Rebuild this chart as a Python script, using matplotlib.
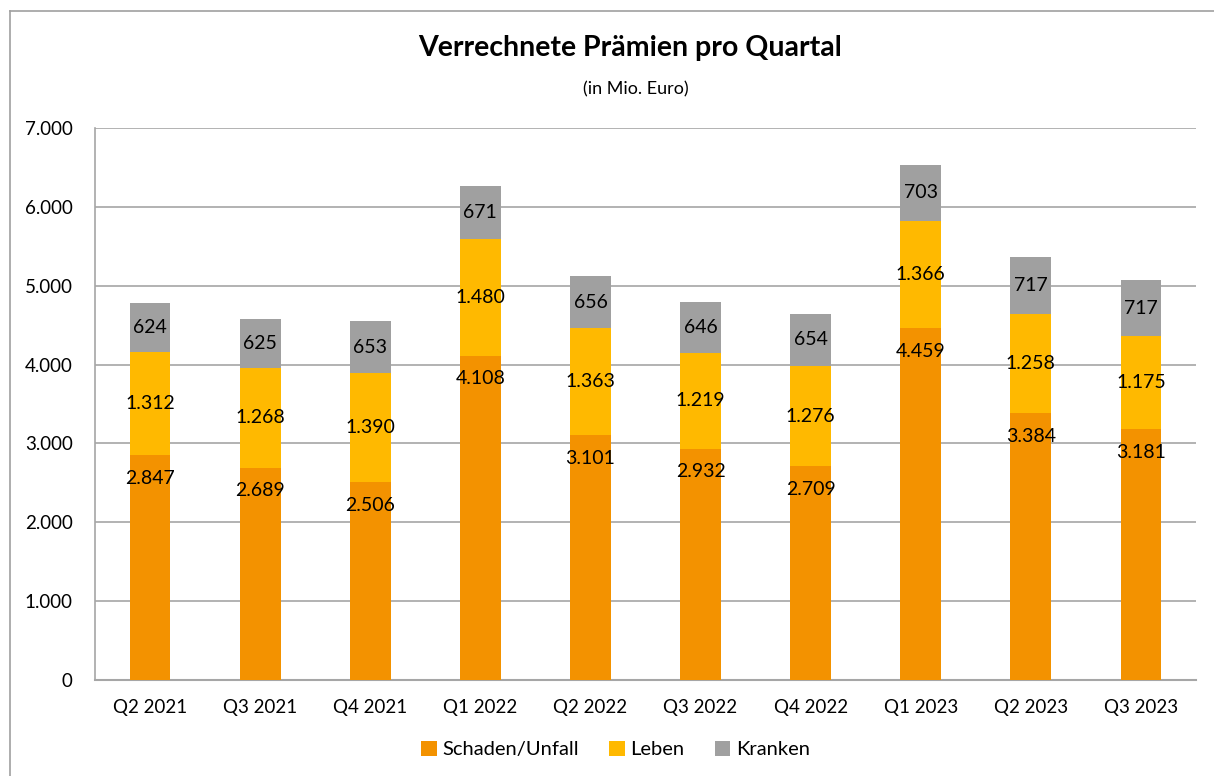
import matplotlib.pyplot as plt
import numpy as np
from matplotlib.ticker import FuncFormatter

plt.rcParams['font.family'] = ['Lato', 'DejaVu Sans']

quartale = ['Q2 2021', 'Q3 2021', 'Q4 2021', 'Q1 2022', 'Q2 2022',
            'Q3 2022', 'Q4 2022', 'Q1 2023', 'Q2 2023', 'Q3 2023']
schaden = [2847, 2689, 2506, 4108, 3101, 2932, 2709, 4459, 3384, 3181]
leben = [1312, 1268, 1390, 1480, 1363, 1219, 1276, 1366, 1258, 1175]
kranken = [624, 625, 653, 671, 656, 646, 654, 703, 717, 717]

farben = ['#F39200', '#FFB900', '#A0A0A0']
namen = ['Schaden/Unfall', 'Leben', 'Kranken']


def de(v):
    return f"{int(v):,}".replace(',', '.')


fig = plt.figure(figsize=(12.14, 7.76), dpi=100)
ax = fig.add_axes([95 / 1214, 1 - 680 / 776, (1196 - 95) / 1214, (680 - 128) / 776])

x = np.arange(len(quartale))
breite = 0.37
s = np.array(schaden)
l = np.array(leben)
k = np.array(kranken)

ax.bar(x, s, breite, color=farben[0], label=namen[0], zorder=3)
ax.bar(x, l, breite, bottom=s, color=farben[1], label=namen[1], zorder=3)
ax.bar(x, k, breite, bottom=s + l, color=farben[2], label=namen[2], zorder=3)

# Beschriftungen
for i in range(len(x)):
    ax.text(x[i], s[i] - 290, de(s[i]), ha='center', va='center', fontsize=14, zorder=4)
    ax.text(x[i], s[i] + l[i] / 2, de(l[i]), ha='center', va='center', fontsize=14, zorder=4)
    ax.text(x[i], s[i] + l[i] + k[i] / 2, de(k[i]), ha='center', va='center', fontsize=14, zorder=4)

ax.set_xlim(-0.5, len(x) - 0.5)
ax.set_ylim(0, 7000)
ax.set_yticks(np.arange(0, 7001, 1000))
ax.yaxis.set_major_formatter(FuncFormatter(lambda v, p: de(v)))
ax.set_xticks(x)
ax.set_xticklabels(quartale)
ax.tick_params(axis='both', length=0, labelsize=13.5, colors='black')
ax.tick_params(axis='x', pad=14)
ax.tick_params(axis='y', pad=16)
ax.grid(axis='y', color='#A6A6A6', linewidth=1.2, zorder=0)

for sp in ['top', 'right']:
    ax.spines[sp].set_visible(False)
ax.spines['left'].set_color('#A6A6A6')
ax.spines['bottom'].set_color('#A6A6A6')
ax.spines['left'].set_linewidth(1.2)
ax.spines['bottom'].set_linewidth(1.5)

fig.text(630 / 1214, 1 - 48 / 776, 'Verrechnete Prämien pro Quartal', ha='center', va='center',
         fontsize=20.5, fontweight='bold')
fig.text(636 / 1214, 1 - 89 / 776, '(in Mio. Euro)', ha='center', va='center', fontsize=13)

ax.legend(loc='center', bbox_to_anchor=(0.473, -0.126), ncol=3, frameon=False, fontsize=14.5,
          handlelength=0.75, handleheight=0.75, handletextpad=0.3, columnspacing=1.5)

# Rahmen
fig.add_artist(plt.Line2D([10 / 1214, 10 / 1214], [0, 1 - 11 / 776], transform=fig.transFigure,
                          color='#A0A0A0', linewidth=1.2))
fig.add_artist(plt.Line2D([10 / 1214, 1], [1 - 11 / 776, 1 - 11 / 776], transform=fig.transFigure,
                          color='#A0A0A0', linewidth=1.2))

fig.savefig('out.png', dpi=100)
